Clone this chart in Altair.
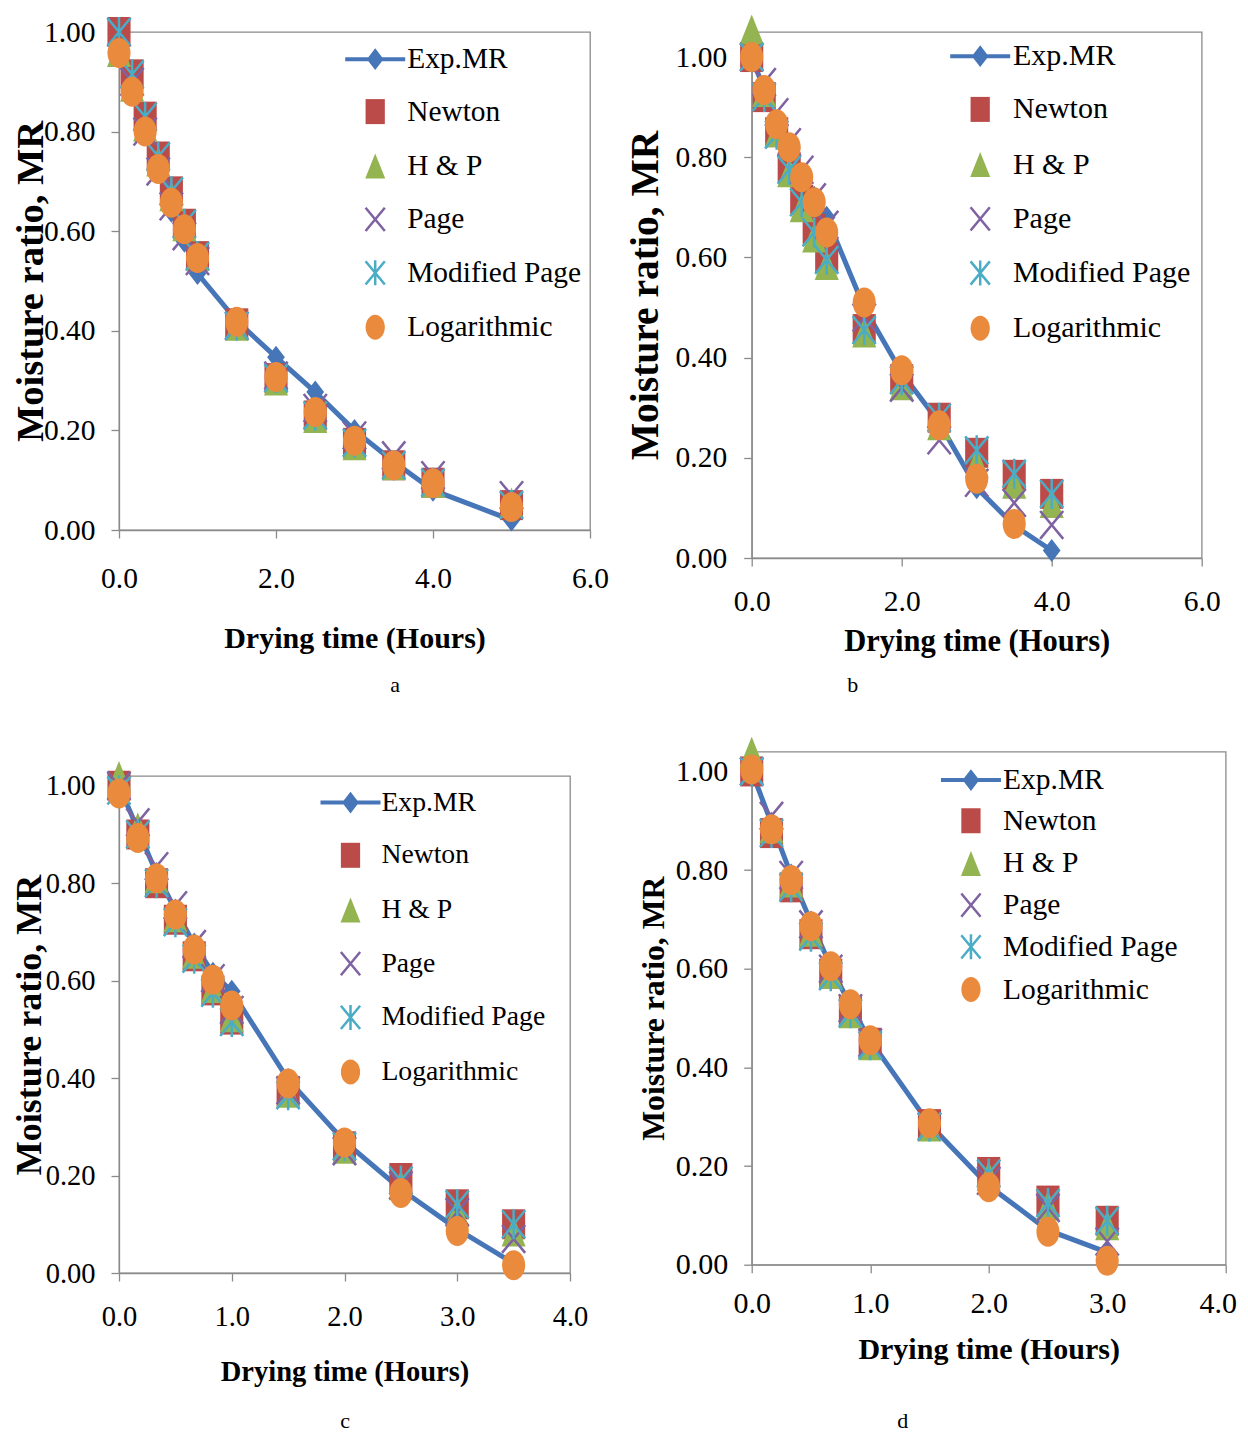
import altair as alt
import pandas as pd

SERIES = ["Exp.MR", "Newton", "H & P", "Page", "Modified Page", "Logarithmic"]

# ---------------- data ----------------
a_time = [0, 0.167, 0.333, 0.5, 0.667, 0.833, 1.0, 1.5, 2.0, 2.5, 3.0, 3.5, 4.0, 5.0]
a_exp = [1.00, 0.91, 0.81, 0.73, 0.64, 0.58, 0.515, 0.42, 0.347, 0.277, 0.20, 0.137, 0.08, 0.02]
a_newton = [1.00, 0.915, 0.83, 0.75, 0.68, 0.615, 0.55, 0.415, 0.305, 0.23, 0.175, 0.13, 0.095, 0.05]
a_hp = [0.96, 0.89, 0.81, 0.74, 0.67, 0.61, 0.55, 0.41, 0.30, 0.225, 0.17, 0.13, 0.095, 0.055]
a_page = [1.00, 0.90, 0.80, 0.72, 0.65, 0.59, 0.54, 0.41, 0.31, 0.245, 0.19, 0.15, 0.11, 0.07]
a_mpage = [1.00, 0.915, 0.83, 0.75, 0.68, 0.615, 0.55, 0.41, 0.305, 0.23, 0.175, 0.13, 0.095, 0.05]
a_log = [0.958, 0.88, 0.80, 0.725, 0.657, 0.604, 0.546, 0.418, 0.307, 0.237, 0.179, 0.13, 0.094, 0.046]

b_time = [0, 0.167, 0.333, 0.5, 0.667, 0.833, 1.0, 1.5, 2.0, 2.5, 3.0, 3.5, 4.0]
b_exp = [1.00, 0.935, 0.87, 0.81, 0.76, 0.72, 0.68, 0.50, 0.37, 0.27, 0.14, 0.065, 0.015]
b_newton = [1.00, 0.92, 0.85, 0.78, 0.715, 0.657, 0.60, 0.457, 0.357, 0.28, 0.21, 0.166, 0.128]
b_hp = [1.055, 0.93, 0.85, 0.77, 0.70, 0.64, 0.585, 0.45, 0.345, 0.265, 0.19, 0.148, 0.11]
b_page = [1.00, 0.95, 0.89, 0.83, 0.775, 0.72, 0.665, 0.48, 0.34, 0.235, 0.15, 0.11, 0.066]
b_mpage = [1.00, 0.92, 0.845, 0.775, 0.71, 0.65, 0.595, 0.455, 0.355, 0.28, 0.215, 0.168, 0.128]
b_log = [1.00, 0.934, 0.866, 0.82, 0.76, 0.71, 0.65, 0.51, 0.375, 0.265, 0.158, 0.068, None]

c_time = [0, 0.167, 0.333, 0.5, 0.667, 0.833, 1.0, 1.5, 2.0, 2.5, 3.0, 3.5]
c_exp = [1.00, 0.91, 0.82, 0.745, 0.675, 0.615, 0.578, 0.397, 0.27, 0.172, 0.09, 0.02]
c_newton = [1.00, 0.90, 0.80, 0.725, 0.65, 0.58, 0.52, 0.373, 0.26, 0.195, 0.141, 0.10]
c_hp = [1.02, 0.915, 0.81, 0.73, 0.655, 0.585, 0.525, 0.37, 0.255, 0.18, 0.125, 0.085]
c_page = [1.00, 0.925, 0.835, 0.755, 0.675, 0.605, 0.54, 0.375, 0.25, 0.18, 0.125, 0.07]
c_mpage = [0.99, 0.90, 0.80, 0.72, 0.645, 0.575, 0.515, 0.365, 0.26, 0.19, 0.141, 0.10]
c_log = [0.984, 0.893, 0.81, 0.736, 0.664, 0.602, 0.549, 0.389, 0.268, 0.164, 0.086, 0.016]

d_time = [0, 0.167, 0.333, 0.5, 0.667, 0.833, 1.0, 1.5, 2.0, 2.5, 3.0]
d_exp = [1.00, 0.895, 0.79, 0.695, 0.605, 0.525, 0.455, 0.285, 0.16, 0.07, 0.025]
d_newton = [1.00, 0.875, 0.765, 0.67, 0.59, 0.515, 0.45, 0.285, 0.188, 0.13, 0.089]
d_hp = [1.04, 0.885, 0.775, 0.675, 0.59, 0.51, 0.445, 0.28, 0.18, 0.12, 0.08]
d_page = [1.00, 0.91, 0.79, 0.69, 0.60, 0.52, 0.45, 0.28, 0.17, 0.115, 0.047]
d_mpage = [1.00, 0.875, 0.765, 0.665, 0.585, 0.51, 0.445, 0.28, 0.185, 0.125, 0.089]
d_log = [1.004, 0.883, 0.78, 0.686, 0.605, 0.528, 0.455, 0.287, 0.157, 0.067, 0.008]

y_ticks = [0.0, 0.2, 0.4, 0.6, 0.8, 1.0]
x_ticks_6 = [0.0, 2.0, 4.0, 6.0]
x_ticks_4 = [0.0, 1.0, 2.0, 3.0, 4.0]

# ---------------- styles ----------------
FONT = "Liberation Serif"
GRAY = "#8a8a8a"
BLUE = "#4675B8"
FILL_RANGE = [BLUE, "#BA4B48", "#93B451", "transparent", "transparent", "#EA8A3D"]
STROKE_RANGE = ["transparent", "transparent", "transparent", "#7E62A1", "#4BACC6", "transparent"]
SHAPE_RANGE = [
    "M-2.4,-0.16L2.4,-0.16L2.4,0.16L-2.4,0.16Z M0,-0.87L0.67,0L0,0.87L-0.67,0Z",
    "M-0.77,-1L0.77,-1L0.77,1L-0.77,1Z",
    "M0,-1L0.8,1L-0.8,1Z",
    "M-0.77,-0.93L0.77,0.93M-0.77,0.93L0.77,-0.93",
    "M-0.77,-0.93L0.77,0.93M-0.77,0.93L0.77,-0.93M0,-1L0,1",
    "M0,-1C0.425,-1 0.77,-0.552 0.77,0C0.77,0.552 0.425,1 0,1C-0.425,1 -0.77,0.552 -0.77,0C-0.77,-0.552 -0.425,-1 0,-1Z",
]
DIAMOND = "M0,-1L0.77,0L0,1L-0.77,0Z"

panels = [
    dict(key="a", time=a_time, vals=[a_exp, a_newton, a_hp, a_page, a_mpage, a_log],
         W=471, H=498, xmax=6, xticks=x_ticks_6, ymax=1.0,
         tickfs=29.5, ytfs=38.5, xtfs=30, ylp=16, yext=68.3, xlp=26.5, xext=93.7, last_dx=0,
         leg=dict(x=209.5, y=-19.5, pad=32, fs=29.4, rp=18.4, lo=17.3),
         cap_dx=40.5, cap_off=20.8),
    dict(key="b", time=b_time, vals=[b_exp, b_newton, b_hp, b_page, b_mpage, b_log],
         W=450, H=526, xmax=6, xticks=x_ticks_6, ymax=1.05,
         tickfs=29.5, ytfs=39.5, xtfs=30.5, ylp=17, yext=86.5, xlp=21.5, xext=68.5, last_dx=0,
         leg=dict(x=188.3, y=-16, pad=25.2, fs=30, rp=19.2, lo=17.7),
         cap_dx=-124, cap_off=18.4),
    dict(key="c", time=c_time, vals=[c_exp, c_newton, c_hp, c_page, c_mpage, c_log],
         W=451, H=497, xmax=4, xticks=x_ticks_4, ymax=1.02,
         tickfs=28.5, ytfs=36, xtfs=28.5, ylp=16, yext=70.2, xlp=21.5, xext=84.9, last_dx=0,
         leg=dict(x=184.9, y=-20, pad=32.6, fs=27.7, rp=18.7, lo=16.9),
         cap_dx=0.5, cap_off=24.5),
    dict(key="d", time=d_time, vals=[d_exp, d_newton, d_hp, d_page, d_mpage, d_log],
         W=474, H=513, xmax=4, xticks=x_ticks_4, ymax=1.04,
         tickfs=30, ytfs=31.7, xtfs=30, ylp=16, yext=81.1, xlp=16, xext=70.2, last_dx=-8,
         leg=dict(x=172.9, y=-18, pad=31.6, fs=29.5, rp=6.7, lo=17.3),
         cap_dx=-86, cap_off=46.3),
]


def make_panel(p):
    rows = []
    for s, vals in zip(SERIES, p["vals"]):
        for t, v in zip(p["time"], vals):
            if v is not None:
                rows.append({"t": t, "mr": v, "series": s})
    df = pd.DataFrame(rows)

    xlab_off = {"condition": {"test": f"datum.value == {p['xmax']}", "value": p["last_dx"]}, "value": 0}
    xax = alt.Axis(values=p["xticks"], format=".1f", title="Drying time (Hours)",
                   titleFont=FONT, titleFontWeight="bold", titleFontSize=p["xtfs"], titleColor="black",
                   titlePadding=0, minExtent=p["xext"], maxExtent=p["xext"],
                   labelFont=FONT, labelFontSize=p["tickfs"], labelColor="black", labelOffset=xlab_off,
                   labelPadding=p["xlp"], labelFlush=False, labelOverlap=False, labelBound=False,
                   tickSize=8, tickColor=GRAY, tickWidth=1.3, domainColor=GRAY, domainWidth=1.3,
                   grid=False)
    yax = alt.Axis(values=y_ticks, format=".2f", title="Moisture ratio, MR",
                   titleFont=FONT, titleFontWeight="bold", titleFontSize=p["ytfs"], titleColor="black",
                   titlePadding=0, minExtent=p["yext"], maxExtent=p["yext"],
                   labelFont=FONT, labelFontSize=p["tickfs"], labelColor="black",
                   labelPadding=p["ylp"], labelFlush=False, labelOverlap=False, labelBound=False,
                   tickSize=8, tickColor=GRAY, tickWidth=1.3, domainColor=GRAY, domainWidth=1.3,
                   grid=False)
    X = alt.X("t:Q", scale=alt.Scale(domain=[0, p["xmax"]], nice=False, zero=False), axis=xax)
    Y = alt.Y("mr:Q", scale=alt.Scale(domain=[0, p["ymax"]], nice=False, zero=False), axis=yax)

    lg = p["leg"]
    legend = alt.Legend(title=None, orient="none", legendX=lg["x"], legendY=lg["y"], padding=lg["pad"],
                        labelFont=FONT, labelFontSize=lg["fs"], labelColor="black", labelLimit=600,
                        symbolSize=625, symbolStrokeWidth=2.5, rowPadding=lg["rp"],
                        labelOffset=lg["lo"], symbolOpacity=1, direction="vertical")

    base = alt.Chart(df)
    exp = base.transform_filter(alt.datum.series == "Exp.MR")
    line = exp.mark_line(color=BLUE, strokeWidth=5).encode(x=X, y=Y)
    dia = exp.mark_point(shape=DIAMOND, size=529, filled=True, color=BLUE, opacity=1,
                         strokeWidth=0).encode(x=X, y=Y)
    pts = base.transform_filter(alt.datum.series != "Exp.MR").mark_point(
        filled=True, opacity=1, size=900, strokeWidth=2.5
    ).encode(
        x=X, y=Y,
        fill=alt.Fill("series:N", scale=alt.Scale(domain=SERIES, range=FILL_RANGE), legend=legend),
        stroke=alt.Stroke("series:N", scale=alt.Scale(domain=SERIES, range=STROKE_RANGE), legend=legend),
        shape=alt.Shape("series:N", scale=alt.Scale(domain=SERIES, range=SHAPE_RANGE), legend=legend),
    )
    cap = alt.TitleParams(p["key"], orient="bottom", anchor="middle", frame="group",
                          dx=p["cap_dx"], offset=p["cap_off"], font=FONT, fontSize=22,
                          fontWeight="normal", color="black")
    return alt.layer(line, dia, pts).properties(width=p["W"], height=p["H"], title=cap)


IND = dict(fill="independent", stroke="independent", shape="independent")
pa, pb, pc, pd_ = [make_panel(p) for p in panels]
col_left = alt.vconcat(pa, pc, spacing=58).resolve_scale(**IND).resolve_legend(**IND)
col_right = alt.vconcat(pb, pd_, spacing=32.7).resolve_scale(**IND).resolve_legend(**IND)
chart = alt.concat(col_left, col_right, columns=2, align="none", spacing=8.7).resolve_scale(**IND).resolve_legend(**IND).properties(
    padding={"left": 3, "top": 0, "right": 0, "bottom": 0},
    background="white",
).configure_view(stroke=GRAY, strokeWidth=1.3)

chart.save("out.html", embed_options={"renderer": "svg", "actions": False})
